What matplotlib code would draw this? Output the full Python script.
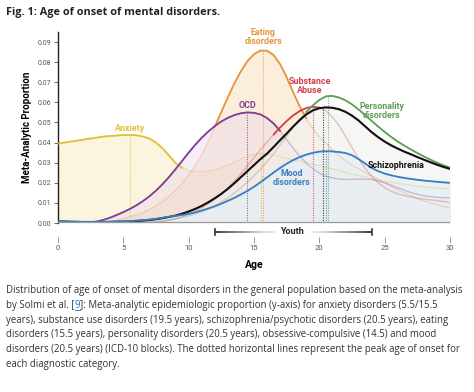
import numpy as np
import matplotlib
matplotlib.use("Agg")
import matplotlib.pyplot as plt
from matplotlib.collections import LineCollection
from matplotlib.lines import Line2D

plt.rcParams['font.family'] = ['Roboto', 'DejaVu Sans']

# ---------------- data ----------------
ages = np.arange(0, 30.5, 0.5)

anxiety = [0.0395, 0.0400, 0.0405, 0.0410, 0.0415, 0.0420, 0.0425, 0.0430, 0.0433, 0.0435,
           0.0437, 0.0438, 0.0436, 0.0430, 0.0420, 0.0400, 0.0372, 0.0335, 0.0298, 0.0275,
           0.0262, 0.0256, 0.0255, 0.0258, 0.0265, 0.0275, 0.0288, 0.0302, 0.0318, 0.0332,
           0.0342, 0.0346, 0.0344, 0.0338, 0.0330, 0.0322, 0.0315, 0.0308, 0.0300, 0.0292,
           0.0284, 0.0276, 0.0268, 0.0260, 0.0252, 0.0244, 0.0236, 0.0228, 0.0221, 0.0214,
           0.0208, 0.0202, 0.0197, 0.0192, 0.0188, 0.0184, 0.0180, 0.0177, 0.0174, 0.0171,
           0.0168]

ocd = [0.0, 0.0, 0.0, 0.0, 0.0, 0.0002, 0.0008, 0.0016, 0.0027, 0.0040,
       0.0054, 0.0070, 0.0088, 0.0109, 0.0133, 0.0161, 0.0193, 0.0229, 0.0268, 0.0309,
       0.0350, 0.0389, 0.0424, 0.0455, 0.0482, 0.0505, 0.0523, 0.0537, 0.0546, 0.0550,
       0.0548, 0.0540, 0.0522, 0.0495, 0.0458, 0.0415, 0.0372, 0.0333, 0.0298, 0.0270,
       0.0248, 0.0233, 0.0224, 0.0219, 0.0217, 0.0217, 0.0218, 0.0218, 0.0216, 0.0210,
       0.0200, 0.0188, 0.0175, 0.0163, 0.0152, 0.0143, 0.0136, 0.0131, 0.0128, 0.0126,
       0.0125]

eating = [0.0, 0.0, 0.0, 0.0, 0.0, 0.0, 0.0, 0.0003, 0.0008, 0.0014,
          0.0022, 0.0030, 0.0040, 0.0052, 0.0067, 0.0085, 0.0107, 0.0133, 0.0163, 0.0198,
          0.0238, 0.0285, 0.0340, 0.0405, 0.0478, 0.0552, 0.0625, 0.0695, 0.0755, 0.0805,
          0.0840, 0.0858, 0.0857, 0.0835, 0.0790, 0.0725, 0.0650, 0.0580, 0.0520, 0.0470,
          0.0430, 0.0398, 0.0365, 0.0335, 0.0310, 0.0288, 0.0270, 0.0252, 0.0235, 0.0218,
          0.0200, 0.0182, 0.0165, 0.0150, 0.0135, 0.0122, 0.0110, 0.0100, 0.0090, 0.0082,
          0.0075]

substance = [0.0, 0.0, 0.0, 0.0, 0.0, 0.0, 0.0, 0.0, 0.0, 0.0,
             0.0, 0.0, 0.0, 0.0, 0.0, 0.0003, 0.0008, 0.0014, 0.0022, 0.0032,
             0.0044, 0.0058, 0.0075, 0.0095, 0.0118, 0.0145, 0.0175, 0.0208, 0.0245, 0.0285,
             0.0325, 0.0365, 0.0403, 0.0440, 0.0475, 0.0507, 0.0535, 0.0557, 0.0572, 0.0578,
             0.0574, 0.0558, 0.0528, 0.0485, 0.0432, 0.0375, 0.0320, 0.0272, 0.0232, 0.0200,
             0.0176, 0.0158, 0.0145, 0.0136, 0.0129, 0.0124, 0.0119, 0.0115, 0.0111, 0.0107,
             0.0103]

personality = [0.0, 0.0, 0.0, 0.0, 0.0, 0.0, 0.0, 0.0, 0.0, 0.0,
               0.0, 0.0, 0.0, 0.0003, 0.0006, 0.0008, 0.0010, 0.0015, 0.0020, 0.0027,
               0.0035, 0.0045, 0.0055, 0.0069, 0.0085, 0.0104, 0.0125, 0.0149, 0.0175, 0.0204,
               0.0235, 0.0269, 0.0305, 0.0345, 0.0388, 0.0432, 0.0475, 0.0515, 0.0552, 0.0585,
               0.0612, 0.0630, 0.0632, 0.0624, 0.0610, 0.0590, 0.0565, 0.0537, 0.0508, 0.0480,
               0.0453, 0.0428, 0.0405, 0.0385, 0.0366, 0.0348, 0.0331, 0.0315, 0.0300, 0.0287,
               0.0275]

schizophrenia = [0.0008, 0.0007, 0.0006, 0.0005, 0.0004, 0.0004, 0.0004, 0.0004, 0.0005, 0.0006,
                 0.0007, 0.0008, 0.0010, 0.0012, 0.0015, 0.0019, 0.0024, 0.0030, 0.0037, 0.0046,
                 0.0057, 0.0070, 0.0085, 0.0103, 0.0123, 0.0145, 0.0170, 0.0198, 0.0228, 0.0258,
                 0.0288, 0.0318, 0.0345, 0.0378, 0.0412, 0.0445, 0.0480, 0.0512, 0.0540, 0.0560,
                 0.0571, 0.0575, 0.0573, 0.0566, 0.0553, 0.0534, 0.0510, 0.0481, 0.0452, 0.0427,
                 0.0405, 0.0386, 0.0370, 0.0355, 0.0342, 0.0328, 0.0315, 0.0302, 0.0290, 0.0279,
                 0.0269]

mood = [0.0008, 0.0008, 0.0007, 0.0007, 0.0006, 0.0006, 0.0006, 0.0006, 0.0007, 0.0008,
        0.0009, 0.0010, 0.0012, 0.0014, 0.0017, 0.0021, 0.0026, 0.0031, 0.0036, 0.0040,
        0.0045, 0.0053, 0.0062, 0.0072, 0.0083, 0.0096, 0.0110, 0.0125, 0.0142, 0.0160,
        0.0180, 0.0203, 0.0227, 0.0251, 0.0274, 0.0295, 0.0313, 0.0328, 0.0340, 0.0349,
        0.0355, 0.0357, 0.0356, 0.0353, 0.0348, 0.0337, 0.0318, 0.0296, 0.0274, 0.0258,
        0.0246, 0.0237, 0.0230, 0.0224, 0.0219, 0.0215, 0.0211, 0.0208, 0.0205, 0.0202,
        0.0200]

# peak ages (dotted markers)
peak_ages = {'anxiety': [5.5, 15.5], 'ocd': [14.5], 'eating': [15.7], 'substance': [19.5],
             'schizophrenia': [20.3], 'mood': [20.5], 'personality': [20.7]}

series = {'anxiety': anxiety, 'eating': eating, 'ocd': ocd, 'substance': substance,
          'personality': personality, 'schizophrenia': schizophrenia, 'mood': mood}

# styles
line_col = {'anxiety': '#e2c03a', 'eating': '#e8943e', 'ocd': '#7e3f8e', 'substance': '#d23f48',
            'personality': '#5e9e58', 'schizophrenia': '#111111', 'mood': '#3c7fc0'}
fill_col = {'anxiety': ('#f6e8b4', 0.42), 'eating': ('#f9d6ac', 0.40), 'ocd': ('#e6d4ee', 0.40),
            'substance': ('#f6dcdc', 0.10), 'personality': ('#eef4ea', 0.20),
            'schizophrenia': ('#f2f2f2', 0.50), 'mood': ('#e4eff9', 0.65)}
# part of each curve drawn at full strength
solid = {'anxiety': (0, 9.5), 'eating': (12, 19), 'ocd': (2.5, 17), 'substance': (16.5, 20),
         'personality': (19, 30), 'schizophrenia': (0, 30), 'mood': (0, 30)}

labels = [('Anxiety', 'anxiety', 5.5, 0.0468),
          ('OCD', 'ocd', 14.5, 0.0585),
          ('Eating\ndisorders', 'eating', 15.7, 0.0925),
          ('Substance\nAbuse', 'substance', 19.3, 0.0682),
          ('Personality\ndisorders', 'personality', 24.8, 0.0557),
          ('Mood\ndisorders', 'mood', 17.9, 0.0224),
          ('Schizophrenia', 'schizophrenia', 25.9, 0.0284)]

fig = plt.figure(figsize=(4.74, 3.92), dpi=100)
W, H = 474, 392
ax = fig.add_axes([58 / W, (H - 223) / H, 392 / W, 191 / H])

for name, vals in series.items():
    c, a = fill_col[name]
    ax.fill_between(ages, 0, vals, color=c, alpha=a, lw=0, zorder=1)

for name, vals in series.items():
    v = np.array(vals)
    ax.plot(ages, v, color=line_col[name], lw=1.0, alpha=0.3, zorder=2)

for name, vals in series.items():
    v = np.array(vals)
    lo, hi = solid[name]
    m = (ages >= lo) & (ages <= hi)
    lw = 1.5 if name == 'schizophrenia' else 1.3
    ax.plot(ages[m], v[m], color=line_col[name], lw=lw, zorder=4, solid_capstyle='round')
    for pa in peak_ages[name]:
        top = np.interp(pa, ages, v)
        ax.plot([pa, pa], [0, top], color=line_col[name], lw=0.8, ls=(0, (1, 1.2)),
                alpha=0.8, zorder=3)

for txt, name, x, y in labels:
    ax.text(x, y, txt, color=line_col[name], ha='center', va='center', fontsize=6.4,
            fontweight='bold', linespacing=1.0, zorder=6)

ax.set_xlim(0, 30)
ax.set_ylim(0, 0.095)
ax.axhline(0, color='#9a9a9a', lw=1.6, zorder=5)
for s in ['top', 'right']:
    ax.spines[s].set_visible(False)
ax.spines['left'].set_linewidth(1.0)
ax.spines['left'].set_color('#222222')
ax.spines['bottom'].set_position(('outward', 10))
ax.spines['bottom'].set_visible(False)
ax.set_yticks(np.arange(0, 0.1, 0.01))
ax.set_yticklabels([f'{t:.2f}' for t in np.arange(0, 0.1, 0.01)])
ax.set_xticks([0, 5, 10, 15, 20, 25, 30])
ax.tick_params(axis='y', labelsize=5, colors='#555555', length=3, width=0.6, pad=2)
ax.tick_params(axis='x', labelsize=5.5, colors='#555555', length=4, width=0.6, pad=2,
               color='#888888')
ax.set_ylabel('Meta-Analytic Proportion', fontsize=7, fontweight='bold', labelpad=4)
ax.set_xlabel('Age', fontsize=7.5, fontweight='bold', labelpad=6)

# youth bar
ybar = -9 / 191
tr = ax.get_xaxis_transform()
xs = np.linspace(12, 16.6, 30)
segs = [[(xs[i], ybar), (xs[i + 1], ybar)] for i in range(len(xs) - 1)]
cols = plt.cm.Greys(np.linspace(0.85, 0.15, len(segs)))
ax.add_collection(LineCollection(segs, colors=cols, lw=1.3, transform=tr, clip_on=False))
xs = np.linspace(19.4, 24, 30)
segs = [[(xs[i], ybar), (xs[i + 1], ybar)] for i in range(len(xs) - 1)]
cols = plt.cm.Greys(np.linspace(0.15, 0.85, len(segs)))
ax.add_collection(LineCollection(segs, colors=cols, lw=1.3, transform=tr, clip_on=False))
for xe in [12, 24]:
    ax.plot([xe, xe], [ybar - 0.018, ybar + 0.018], color='#333333', lw=1.2, transform=tr,
            clip_on=False)
ax.text(18, ybar, 'Youth', transform=tr, ha='center', va='center', fontsize=6.5,
        fontweight='bold', color='#222222')

# title and caption
cap_font = ['Open Sans', 'DejaVu Sans']
r = fig.canvas.get_renderer()

title = 'Fig. 1: Age of onset of mental disorders.'
probe = fig.text(0, 0, title, fontsize=10, fontweight='bold', family=cap_font)
title_fs = 10 * 214 / probe.get_window_extent(renderer=r).width
probe.remove()
fig.text(6 / W, 1 - 13 / H, title, fontsize=title_fs, fontweight='bold', color='#222222',
         va='center', family=cap_font)

cap_lines = [
    [('Distribution of age of onset of mental disorders in the general population based on the meta-analysis', None)],
    [('by Solmi et al. [', None), ('9', 'link'), (']: Meta-analytic epidemiologic proportion (y-axis) for anxiety disorders (5.5/15.5', None)],
    [('years), substance use disorders (19.5 years), schizophrenia/psychotic disorders (20.5 years), eating', None)],
    [('disorders (15.5 years), personality disorders (20.5 years), obsessive-compulsive (14.5) and mood', None)],
    [('disorders (20.5 years) (ICD-10 blocks). The dotted horizontal lines represent the peak age of onset for', None)],
    [('each diagnostic category.', None)],
]
# size the caption so the first line spans the same width as in the source
probe = fig.text(0, 0, cap_lines[0][0][0], fontsize=10, family=cap_font)
cap_fs = 10 * 454 / probe.get_window_extent(renderer=r).width
probe.remove()

for i, runs in enumerate(cap_lines):
    y = 1 - (291 + i * 14.6) / H
    x = 6 / W
    for txt, kind in runs:
        col = '#2a6ebb' if kind == 'link' else '#333333'
        t = fig.text(x, y, txt, fontsize=cap_fs, color=col, va='center', family=cap_font)
        bb = t.get_window_extent(renderer=r)
        if kind == 'link':
            fig.add_artist(Line2D([bb.x0 / W, bb.x1 / W], [(bb.y0 + 1) / H] * 2, color=col, lw=0.6))
        x = bb.x1 / W

fig.savefig('out.png', dpi=100)
